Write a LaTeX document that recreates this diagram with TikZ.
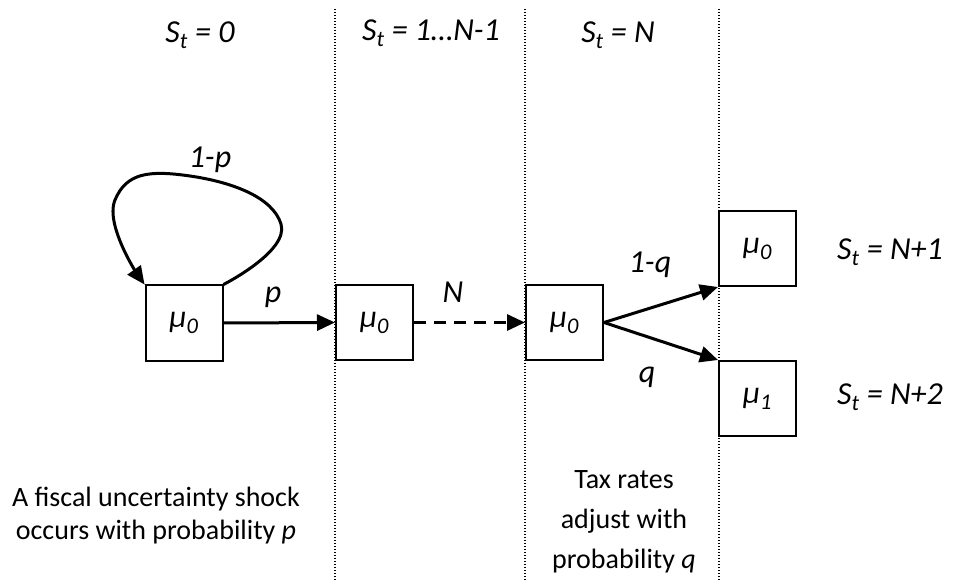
\documentclass[tikz,border=0pt]{standalone}
\usepackage{fontspec}
\setmainfont{Carlito}
\usetikzlibrary{arrows.meta}
\begin{document}
\begin{tikzpicture}[x=1pt,y=-1pt,
  statebox/.style={draw,line width=2pt,minimum width=77pt,minimum height=75pt,inner sep=0pt,font=\fontsize{32}{38}\selectfont\itshape},
  lab/.style={font=\fontsize{32}{38}\selectfont\itshape,inner sep=0pt},
  body/.style={font=\fontsize{28}{33}\selectfont,align=center,inner sep=0pt},
  sepline/.style={line width=1.3pt,dash pattern=on 1.3pt off 1.7pt},
  arr/.style={line width=3pt,-{Triangle[length=18pt,width=16pt]}},
]
\useasboundingbox (0,0) rectangle (954,580);
% separators
\coordinate (t1) at (335,9); \coordinate (b1) at (335,580);
\coordinate (t2) at (525,9); \coordinate (b2) at (525,580);
\coordinate (t3) at (719,9); \coordinate (b3) at (719,580);
\draw[sepline] (t1) -- (b1);
\draw[sepline] (t2) -- (b2);
\draw[sepline] (t3) -- (b3);
% boxes
\node[statebox] (A) at (184,323) {μ\textsubscript{0}};
\node[statebox] (B) at (374.5,322.5) {μ\textsubscript{0}};
\node[statebox] (C) at (564.5,322.5) {μ\textsubscript{0}};
\node[statebox] (D) at (757.5,248.5) {μ\textsubscript{0}};
\node[statebox] (E) at (757.5,398.5) {μ\textsubscript{1}};
% connectors
\draw[arr] plot[smooth, tension=0.9] coordinates {(A.north east) (281,224) (190,176) (115,200) (A.north west)};
\draw[arr] (A.east) -- (B.west);
\draw[arr, dash pattern=on 12pt off 8pt] (B.east) -- (C.west);
\draw[arr] (C.east) -- (D.south west);
\draw[arr] (C.east) -- (E.north west);
% connector labels
\node[lab] (lp) at (210,160) {1-p};
\node[lab] (lbp) at (273,297) {p};
\node[lab] (lN) at (453,292) {N};
\node[lab] (l1q) at (650,265) {1-q};
\node[lab] (lq) at (647,377) {q};
% state labels
\node[lab] (s0) at (200,35) {S\textsubscript{t} = 0};
\node[lab] (s1) at (431,33) {S\textsubscript{t} = 1…N-1};
\node[lab] (s2) at (618,35) {S\textsubscript{t} = N};
\node[lab] (s3) at (890,252) {S\textsubscript{t} = N+1};
\node[lab] (s4) at (890,397) {S\textsubscript{t} = N+2};
% notes
\node[body] (note1) at (156,516) {A fiscal uncertainty shock\\occurs with probability \textit{p}};
\node[body, font=\fontsize{28}{40}\selectfont] (note2) at (624,522) {Tax rates\\adjust with\\probability \textit{q}};
\end{tikzpicture}
\end{document}
